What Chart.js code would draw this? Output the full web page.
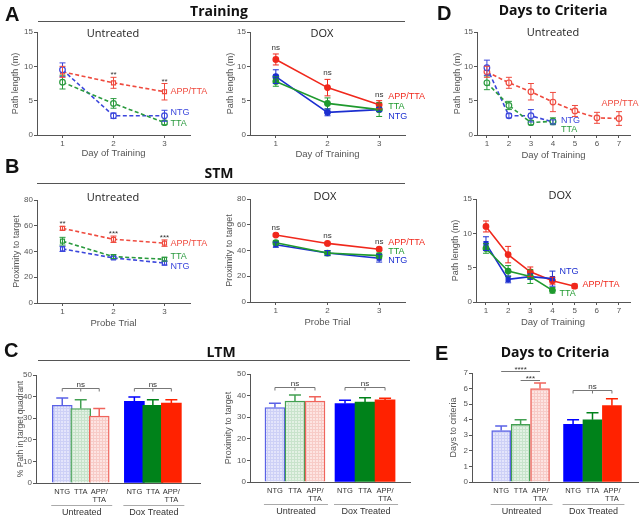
<!DOCTYPE html>
<html>
<head>
<meta charset="utf-8">
<script src="https://cdn.jsdelivr.net/npm/chart.js@4.4.1/dist/chart.umd.min.js"></script>
<style>
html, body { margin: 0; padding: 0; background: #fff; }
#fig { position: relative; width: 640px; height: 516px; overflow: hidden; }
#fig canvas { position: absolute; left: 0; top: 0; }
.letter { position: absolute; font: bold 20px "Liberation Sans", Arial, sans-serif; line-height: 1; color: #111; }
.head { position: absolute; font: bold 14px "Open Sans", sans-serif; line-height: 1; color: #111; white-space: nowrap; transform: translateX(-50%); }
.sub { position: absolute; font: 11px "Open Sans", sans-serif; line-height: 1; color: #222; white-space: nowrap; transform: translateX(-50%); }
.rule { position: absolute; height: 1px; background: #555; }
</style>
</head>
<body>
<div id="fig">
  <canvas id="aUnt" width="640" height="516"></canvas>
  <canvas id="aDox" width="640" height="516"></canvas>
  <canvas id="bUnt" width="640" height="516"></canvas>
  <canvas id="bDox" width="640" height="516"></canvas>
  <canvas id="cPath" width="640" height="516"></canvas>
  <canvas id="cProx" width="640" height="516"></canvas>
  <canvas id="dUnt" width="640" height="516"></canvas>
  <canvas id="dDox" width="640" height="516"></canvas>
  <canvas id="eDays" width="640" height="516"></canvas>

  <div class="letter" style="left:5px;top:4px">A</div>
  <div class="letter" style="left:5px;top:156px">B</div>
  <div class="letter" style="left:4px;top:340px">C</div>
  <div class="letter" style="left:437px;top:3px">D</div>
  <div class="letter" style="left:435px;top:343px">E</div>

  <div class="head" style="left:219px;top:4px">Training</div>
  <div class="head" style="left:219px;top:166px">STM</div>
  <div class="head" style="left:221px;top:345px">LTM</div>
  <div class="head" style="left:553px;top:3px">Days to Criteria</div>
  <div class="head" style="left:555px;top:345px">Days to Criteria</div>

  <div class="rule" style="left:38px;top:21px;width:367px"></div>
  <div class="rule" style="left:37px;top:183px;width:368px"></div>
  <div class="rule" style="left:38px;top:360px;width:372px"></div>

  <div class="sub" style="left:113px;top:27px">Untreated</div>
  <div class="sub" style="left:322px;top:27px">DOX</div>
  <div class="sub" style="left:113px;top:191px">Untreated</div>
  <div class="sub" style="left:325px;top:190px">DOX</div>
  <div class="sub" style="left:553px;top:26px">Untreated</div>
  <div class="sub" style="left:560px;top:189px">DOX</div>
</div>

<script>
// ---------- data ----------
var trainDays = [1, 2, 3];
var criteriaDays = [1, 2, 3, 4, 5, 6, 7];
var probeTrials = [1, 2, 3];
var genotypes = ['NTG', 'TTA', 'APP/TTA'];
var treatments = ['Untreated', 'Dox Treated'];

// A - training, path length (m)
var trainUntNTG = [9.5, 2.8, 2.8];
var trainUntNTGErr = [1.0, 0.4, 0.8];
var trainUntTTA = [7.7, 4.6, 1.8];
var trainUntTTAErr = [1.0, 0.7, 0.3];
var trainUntAPP = [9.2, 7.6, 6.3];
var trainUntAPPErr = [0.8, 0.8, 1.2];
var trainUntSig = ['', '**', '**'];

var trainDoxNTG = [8.5, 3.3, 3.7];
var trainDoxNTGErr = [1.0, 0.5, 0.3];
var trainDoxTTA = [7.8, 4.6, 3.7];
var trainDoxTTAErr = [0.7, 0.8, 1.0];
var trainDoxAPP = [11.0, 6.9, 4.4];
var trainDoxAPPErr = [0.8, 1.2, 0.6];
var trainDoxSig = ['ns', 'ns', 'ns'];

// B - STM, proximity to target
var stmUntNTG = [42, 35, 31];
var stmUntNTGErr = [2, 1, 1.5];
var stmUntTTA = [48, 36, 34];
var stmUntTTAErr = [3, 1.5, 1.5];
var stmUntAPP = [58, 49.5, 46.5];
var stmUntAPPErr = [1.5, 2.5, 2.5];
var stmUntSig = ['**', '***', '***'];

var stmDoxNTG = [44.5, 38, 34];
var stmDoxNTGErr = [2, 2, 3];
var stmDoxTTA = [46, 38, 36];
var stmDoxTTAErr = [1.5, 2, 2];
var stmDoxAPP = [52, 45.5, 41];
var stmDoxAPPErr = [1, 1, 1];
var stmDoxSig = ['ns', 'ns', 'ns'];

// C - LTM (NTG, TTA, APP/TTA)
var ltmPathUnt = [36, 34.5, 31];
var ltmPathUntErr = [3.3, 4, 3.5];
var ltmPathDox = [37.8, 36, 37];
var ltmPathDoxErr = [2, 2.5, 1.5];
var ltmProxUnt = [34.5, 37.5, 37.5];
var ltmProxUntErr = [2, 2.8, 2];
var ltmProxDox = [36.3, 37, 38];
var ltmProxDoxErr = [1.5, 2, 0.8];

// D - days to criteria, path length (m)
var critUntNTG = [9.8, 2.8, 2.8, 1.9];
var critUntNTGErr = [1.1, 0.3, 0.9, 0.3];
var critUntTTA = [7.6, 4.3, 1.8, 2.0];
var critUntTTAErr = [1.0, 0.6, 0.3, 0.5];
var critUntAPP = [9.2, 7.6, 6.3, 4.8, 3.5, 2.5, 2.4];
var critUntAPPErr = [0.8, 0.8, 1.2, 1.4, 0.8, 0.8, 1.0];

var critDoxNTG = [8.5, 3.3, 3.7, 3.4];
var critDoxNTGErr = [1.0, 0.5, 0.4, 1.1];
var critDoxTTA = [7.8, 4.5, 3.7, 1.7];
var critDoxTTAErr = [0.7, 0.8, 1.0, 0.4];
var critDoxAPP = [11.0, 6.9, 4.4, 3.1, 2.3];
var critDoxAPPErr = [0.8, 1.2, 0.7, 0.5, 0.3];

// E - days to criteria (NTG, TTA, APP/TTA)
var daysUnt = [3.3, 3.7, 6.0];
var daysUntErr = [0.3, 0.3, 0.35];
var daysDox = [3.7, 4.0, 4.9];
var daysDoxErr = [0.3, 0.45, 0.45];

// ---------- styling ----------
var W = 640, H = 516;
var FONT = '"Liberation Sans", Arial, sans-serif';
Chart.defaults.font.family = FONT;
Chart.defaults.color = '#555';
var AXIS = '#555';

var lineCol = {
  unt: { 'NTG': '#3b46dc', 'TTA': '#2a9a3e', 'APP/TTA': '#ef4a3e' },
  dox: { 'NTG': '#1c2fd0', 'TTA': '#1f9a2e', 'APP/TTA': '#f0281c' }
};

function hatch(fill, line) {
  var c = document.createElement('canvas');
  c.width = c.height = 3;
  var g = c.getContext('2d');
  g.fillStyle = fill; g.fillRect(0, 0, 3, 3);
  g.fillStyle = line; g.fillRect(0, 0, 3, 1); g.fillRect(0, 0, 1, 3);
  return g.createPattern(c, 'repeat');
}

// error bars for any dataset that carries an err array
var errorBars = {
  id: 'errorBars',
  afterDatasetsDraw: function (chart) {
    var ctx = chart.ctx, ys = chart.scales.y;
    chart.data.datasets.forEach(function (ds, i) {
      if (!ds.err) return;
      var meta = chart.getDatasetMeta(i);
      meta.data.forEach(function (el, j) {
        var v = ds.data[j].y, e = ds.err[j];
        var col = Array.isArray(ds.errColor) ? ds.errColor[j] : (ds.errColor || ds.borderColor);
        var top = ys.getPixelForValue(v + e);
        var bot = ds.upOnly ? ys.getPixelForValue(v) : ys.getPixelForValue(v - e);
        var cap = ds.cap || 3;
        ctx.save();
        ctx.strokeStyle = col;
        ctx.lineWidth = ds.upOnly ? 1.5 : 1;
        ctx.beginPath();
        ctx.moveTo(el.x, top); ctx.lineTo(el.x, bot);
        ctx.moveTo(el.x - cap, top); ctx.lineTo(el.x + cap, top);
        if (!ds.upOnly) { ctx.moveTo(el.x - cap, bot); ctx.lineTo(el.x + cap, bot); }
        ctx.stroke();
        ctx.restore();
      });
    });
  }
};

// series tags, significance marks, brackets, group labels
var notes = {
  id: 'notes',
  afterDraw: function (chart) {
    var o = chart.options.plugins.notes || {};
    var ctx = chart.ctx, xs = chart.scales.x, ys = chart.scales.y, area = chart.chartArea;
    ctx.save();
    chart.data.datasets.forEach(function (ds, i) {
      if (!ds.tag) return;
      var el = chart.getDatasetMeta(i).data[ds.data.length - 1];
      ctx.font = '9px ' + FONT;
      ctx.fillStyle = ds.borderColor;
      ctx.textAlign = ds.tag.align || 'left';
      ctx.textBaseline = 'middle';
      ctx.fillText(ds.label, el.x + ds.tag.dx, el.y + ds.tag.dy);
    });
    if (o.sig) {
      o.sig.forEach(function (t, j) {
        if (!t) return;
        var top = Infinity, x = 0;
        chart.data.datasets.forEach(function (ds) {
          var p = ds.data[j];
          if (!p) return;
          x = xs.getPixelForValue(p.x);
          top = Math.min(top, ys.getPixelForValue(p.y + (ds.err ? ds.err[j] : 0)));
        });
        ctx.font = '8px ' + FONT;
        ctx.fillStyle = '#333';
        ctx.textAlign = 'center';
        ctx.textBaseline = 'alphabetic';
        ctx.fillText(t, x, top - (t === 'ns' ? 4 : 0));
      });
    }
    (o.brackets || []).forEach(function (b) {
      var x1 = xs.getPixelForValue(o.pos[b.from]), x2 = xs.getPixelForValue(o.pos[b.to]);
      var y = Math.round(ys.getPixelForValue(b.y)) + 0.5;
      ctx.strokeStyle = '#777';
      ctx.lineWidth = 1;
      ctx.beginPath();
      ctx.moveTo(x1, y); ctx.lineTo(x2, y);
      if (b.ticks) {
        for (var k = b.from; k <= b.to; k++) {
          var xk = xs.getPixelForValue(o.pos[k]);
          ctx.moveTo(xk, y); ctx.lineTo(xk, y + 3);
        }
      }
      ctx.stroke();
      ctx.font = '8px ' + FONT;
      ctx.fillStyle = '#333';
      ctx.textAlign = 'center';
      ctx.textBaseline = 'alphabetic';
      ctx.fillText(b.text, (x1 + x2) / 2, y - (b.text === 'ns' ? 2 : 0));
    });
    if (o.groups) {
      o.groups.forEach(function (name, g) {
        var x1 = xs.getPixelForValue(o.pos[g * 3]) - o.barW / 2 - 1;
        var x2 = xs.getPixelForValue(o.pos[g * 3 + 2]) + o.barW / 2 + 3;
        var y = Math.round(area.bottom + 22) + 0.5;
        ctx.strokeStyle = '#aaa';
        ctx.lineWidth = 1;
        ctx.beginPath(); ctx.moveTo(x1, y); ctx.lineTo(x2, y); ctx.stroke();
        ctx.font = '9px ' + FONT;
        ctx.fillStyle = '#333';
        ctx.textAlign = 'center';
        ctx.textBaseline = 'middle';
        ctx.fillText(name, (x1 + x2) / 2, y + 7);
      });
    }
    ctx.restore();
  }
};

function yAxis(max, step, title, width, titleSize) {
  return {
    min: 0, max: max,
    ticks: { stepSize: step, font: { size: 8 }, color: '#555', padding: 1 },
    grid: { drawOnChartArea: false, drawTicks: true, tickLength: 3, color: AXIS },
    border: { color: AXIS, width: 1 },
    title: { display: true, text: title, font: { size: titleSize || 9 }, color: '#555', padding: 0 },
    afterFit: function (s) { s.width = width; }
  };
}

function xAxis(min, max, at, title, height, fmt, tickMarks, font) {
  return {
    type: 'linear', min: min, max: max,
    afterBuildTicks: function (s) { s.ticks = at.map(function (v) { return { value: v }; }); },
    ticks: {
      font: font || { size: 8 }, color: tickMarks ? '#555' : '#333', padding: tickMarks ? 1 : 5,
      autoSkip: false, maxRotation: 0,
      callback: fmt || function (v) { return String(v); }
    },
    grid: { drawOnChartArea: false, drawTicks: !!tickMarks, tickLength: 3, color: AXIS },
    border: { color: AXIS, width: 1 },
    title: { display: !!title, text: title || '', font: { size: 9.5 }, color: '#555', padding: 0 },
    afterFit: function (s) { s.height = height; }
  };
}

function pad(o) {
  return { left: o.area[0] - o.yW, top: o.area[1], right: W - o.area[2], bottom: H - o.area[3] - o.xH };
}

function lineChart(id, o) {
  var cols = lineCol[o.dashed ? 'unt' : 'dox'];
  var datasets = o.series.map(function (s) {
    var c = cols[s.name];
    return {
      label: s.name,
      data: s.values.map(function (v, i) { return { x: o.x[i], y: v }; }),
      err: s.err,
      tag: s.tag,
      borderColor: c,
      pointBorderColor: c,
      pointBackgroundColor: o.dashed ? '#fff' : c,
      pointStyle: s.point || 'circle',
      pointRadius: 2.8,
      pointBorderWidth: 1.2,
      borderWidth: 1.6,
      borderDash: o.dashed ? [4, 2.5] : [],
      clip: false
    };
  });
  new Chart(document.getElementById(id), {
    type: 'line',
    data: { datasets: datasets },
    options: {
      responsive: false, animation: false, devicePixelRatio: 1,
      layout: { padding: pad(o) },
      scales: {
        x: xAxis(o.xRange[0], o.xRange[1], o.x, o.xTitle, o.xH, null, true),
        y: yAxis(o.yMax, o.yStep, o.yTitle, o.yW)
      },
      plugins: { legend: { display: false }, tooltip: { enabled: false }, notes: { sig: o.sig } }
    },
    plugins: [errorBars, notes]
  });
}

var untFill = [hatch('#e4e5fb', '#cdd0f6'), hatch('#e3f1e4', '#c8e3cb'), hatch('#fde4e2', '#f7cbc7')];
var untLine = ['#5a62e6', '#43a052', '#f0645c'];
var doxFill = ['#0000ff', '#00821a', '#ff2200'];

function barChart(id, o) {
  var pos = [1, 2, 3, 3 + o.gap, 4 + o.gap, 5 + o.gap];
  var vals = o.unt.concat(o.dox), errs = o.untErr.concat(o.doxErr);
  var label = function (v) {
    var k = pos.indexOf(v);
    var g = genotypes[k % 3];
    return g.indexOf('/') > 0 ? [g.split('/')[0] + '/', g.split('/')[1]] : g;
  };
  new Chart(document.getElementById(id), {
    type: 'bar',
    data: {
      datasets: [{
        data: vals.map(function (v, i) { return { x: pos[i], y: v }; }),
        err: errs, upOnly: true, cap: 6,
        errColor: untLine.concat(doxFill),
        backgroundColor: untFill.concat(doxFill),
        borderColor: untLine.concat(doxFill),
        borderWidth: [1.4, 1.4, 1.4, 0, 0, 0],
        borderSkipped: 'bottom',
        barThickness: o.barW
      }]
    },
    options: {
      responsive: false, animation: false, devicePixelRatio: 1,
      layout: { padding: pad(o) },
      scales: {
        x: xAxis(o.xRange[0], o.xRange[1], pos, null, o.xH, label, false, { size: 7.5, lineHeight: 1.1 }),
        y: yAxis(o.yMax, o.yStep, o.yTitle, o.yW, o.yTitleSize)
      },
      plugins: {
        legend: { display: false }, tooltip: { enabled: false },
        notes: { pos: pos, brackets: o.brackets, groups: treatments, barW: o.barW }
      }
    },
    plugins: [errorBars, notes]
  });
}

// ---------- panels ----------
lineChart('aUnt', {
  area: [37, 32, 190, 135], yW: 27, xH: 24, dashed: true,
  x: trainDays, xRange: [0.5, 3.5], xTitle: 'Day of Training',
  yMax: 15, yStep: 5, yTitle: 'Path length (m)', sig: trainUntSig,
  series: [
    { name: 'TTA', values: trainUntTTA, err: trainUntTTAErr, tag: { dx: 6, dy: 1 } },
    { name: 'NTG', values: trainUntNTG, err: trainUntNTGErr, tag: { dx: 6, dy: -3 } },
    { name: 'APP/TTA', values: trainUntAPP, err: trainUntAPPErr, point: 'rect', tag: { dx: 6, dy: 0 } }
  ]
});

lineChart('aDox', {
  area: [250, 32, 405, 135], yW: 25, xH: 25, dashed: false,
  x: trainDays, xRange: [0.5, 3.5], xTitle: 'Day of Training',
  yMax: 15, yStep: 5, yTitle: 'Path length (m)', sig: trainDoxSig,
  series: [
    { name: 'TTA', values: trainDoxTTA, err: trainDoxTTAErr, tag: { dx: 9, dy: -3 } },
    { name: 'NTG', values: trainDoxNTG, err: trainDoxNTGErr, tag: { dx: 9, dy: 7 } },
    { name: 'APP/TTA', values: trainDoxAPP, err: trainDoxAPPErr, tag: { dx: 9, dy: -8 } }
  ]
});

lineChart('bUnt', {
  area: [37, 200, 190, 303], yW: 26, xH: 26, dashed: true,
  x: probeTrials, xRange: [0.5, 3.5], xTitle: 'Probe Trial',
  yMax: 80, yStep: 20, yTitle: 'Proximity to target', sig: stmUntSig,
  series: [
    { name: 'NTG', values: stmUntNTG, err: stmUntNTGErr, point: 'rect', tag: { dx: 6, dy: 3 } },
    { name: 'TTA', values: stmUntTTA, err: stmUntTTAErr, point: 'rect', tag: { dx: 6, dy: -3 } },
    { name: 'APP/TTA', values: stmUntAPP, err: stmUntAPPErr, point: 'rect', tag: { dx: 6, dy: 0 } }
  ]
});

lineChart('bDox', {
  area: [250, 199, 405, 302], yW: 26, xH: 26, dashed: false,
  x: probeTrials, xRange: [0.5, 3.5], xTitle: 'Probe Trial',
  yMax: 80, yStep: 20, yTitle: 'Proximity to target', sig: stmDoxSig,
  series: [
    { name: 'TTA', values: stmDoxTTA, err: stmDoxTTAErr, tag: { dx: 9, dy: -4 } },
    { name: 'NTG', values: stmDoxNTG, err: stmDoxNTGErr, point: 'rect', tag: { dx: 9, dy: 2 } },
    { name: 'APP/TTA', values: stmDoxAPP, err: stmDoxAPPErr, tag: { dx: 9, dy: -7 } }
  ]
});

lineChart('dUnt', {
  area: [477, 32, 630, 135], yW: 25, xH: 26, dashed: true,
  x: criteriaDays, xRange: [0.55, 7.5], xTitle: 'Day of Training',
  yMax: 15, yStep: 5, yTitle: 'Path length (m)',
  series: [
    { name: 'TTA', values: critUntTTA, err: critUntTTAErr, tag: { dx: 8, dy: 8 } },
    { name: 'NTG', values: critUntNTG, err: critUntNTGErr, tag: { dx: 8, dy: -1 } },
    { name: 'APP/TTA', values: critUntAPP, err: critUntAPPErr, tag: { dx: 1, dy: -15, align: 'center' } }
  ]
});

lineChart('dDox', {
  area: [476, 199, 630, 302], yW: 26, xH: 26, dashed: false,
  x: criteriaDays, xRange: [0.55, 7.5], xTitle: 'Day of Training',
  yMax: 15, yStep: 5, yTitle: 'Path length (m)',
  series: [
    { name: 'TTA', values: critDoxTTA, err: critDoxTTAErr, tag: { dx: 7, dy: 3 } },
    { name: 'NTG', values: critDoxNTG, err: critDoxNTGErr, point: 'rect', tag: { dx: 7, dy: -7 } },
    { name: 'APP/TTA', values: critDoxAPP, err: critDoxAPPErr, tag: { dx: 8, dy: -2 } }
  ]
});

barChart('cPath', {
  area: [36, 375, 200, 483], yW: 20, xH: 30, xRange: [0.32, 7.71], gap: 1.9, barW: 20,
  yMax: 50, yStep: 10, yTitle: '% Path in target quadrant', yTitleSize: 8.5,
  unt: ltmPathUnt, untErr: ltmPathUntErr, dox: ltmPathDox, doxErr: ltmPathDoxErr,
  brackets: [
    { from: 0, to: 2, y: 44, text: 'ns', ticks: true },
    { from: 3, to: 5, y: 44, text: 'ns', ticks: true }
  ]
});

barChart('cProx', {
  area: [250, 374, 410, 482], yW: 27, xH: 30, xRange: [0.42, 7.08], gap: 1.5, barW: 20,
  yMax: 50, yStep: 10, yTitle: 'Proximity to target',
  unt: ltmProxUnt, untErr: ltmProxUntErr, dox: ltmProxDox, doxErr: ltmProxDoxErr,
  brackets: [
    { from: 0, to: 2, y: 44, text: 'ns', ticks: true },
    { from: 3, to: 5, y: 44, text: 'ns', ticks: true }
  ]
});

barChart('eDays', {
  area: [472, 373, 638, 482], yW: 24, xH: 30, xRange: [0.21, 7.33], gap: 1.7, barW: 19,
  yMax: 7, yStep: 1, yTitle: 'Days to criteria',
  unt: daysUnt, untErr: daysUntErr, dox: daysDox, doxErr: daysDoxErr,
  brackets: [
    { from: 0, to: 2, y: 7.13, text: '****' },
    { from: 1, to: 2, y: 6.55, text: '***' },
    { from: 3, to: 5, y: 5.9, text: 'ns', ticks: true }
  ]
});
</script>
</body>
</html>
